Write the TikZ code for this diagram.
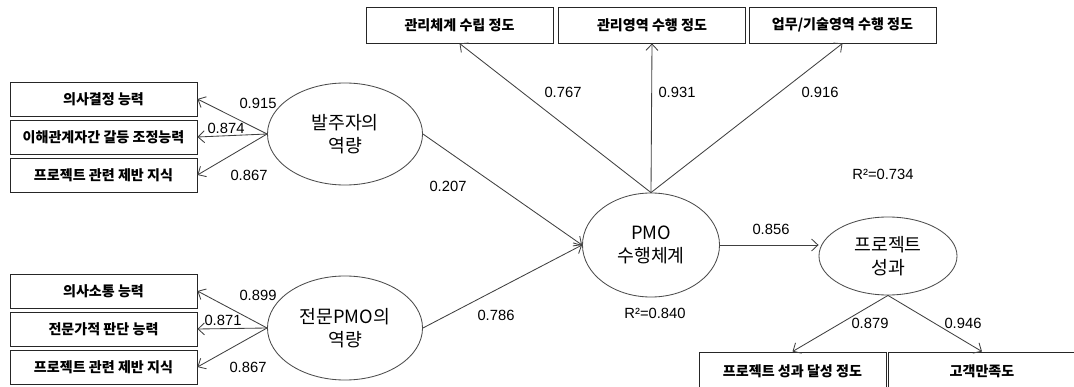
\documentclass[tikz,border=0pt]{standalone}
\usepackage{fontspec}
\setmainfont{Liberation Sans}
\newfontfamily\kor{Noto Sans CJK KR}
\usetikzlibrary{shapes.geometric,arrows.meta}

\begin{document}
\begin{tikzpicture}[x=0.025cm,y=-0.025cm,
  item/.style={rectangle,draw=black!85,line width=0.6pt,minimum width=4.675cm,minimum height=0.85cm,inner sep=0pt,font=\kor\bfseries\fontsize{10}{12}\selectfont},
  latent/.style={ellipse,draw=black!70,line width=0.6pt,inner sep=0pt,align=center,font=\kor\fontsize{13}{16}\selectfont},
  load/.style={draw=black!75,line width=0.6pt,-{Straight Barb[length=1.6mm,width=3mm]}},
  coef/.style={font=\fontsize{10.5}{12}\selectfont,inner sep=0pt}]
\useasboundingbox (0,0) rectangle (1074,387);
\fill[white] (0,0) rectangle (1074,387);

\node[latent,minimum width=3.875cm,minimum height=2.55cm] (bj) at (345,134) {발주자의\\역량};
\node[latent,minimum width=3.875cm,minimum height=2.6cm] (jp) at (345,328) {전문PMO의\\역량};
\node[latent,minimum width=3.425cm,minimum height=2.6cm] (pmo) at (651,245) {PMO\\수행체계};
\node[latent,minimum width=3.45cm,minimum height=1.95cm] (sg) at (888,256) {프로젝트\\성과};

\node[item] (a1) at (103.5,99) {의사결정 능력};
\node[item] (a2) at (103.5,137) {이해관계자간 갈등 조정능력};
\node[item] (a3) at (103.5,175) {프로젝트 관련 제반 지식};
\node[item] (b1) at (103.5,291) {의사소통 능력};
\node[item] (b2) at (103.5,329) {전문가적 판단 능력};
\node[item] (b3) at (103.5,367) {프로젝트 관련 제반 지식};
\node[item,minimum height=0.9cm] (p1) at (459.5,25) {관리체계 수립 정도};
\node[item,minimum height=0.9cm] (p2) at (652,25) {관리영역 수행 정도};
\node[item,minimum height=0.9cm] (p3) at (842.5,25) {업무/기술영역 수행 정도};
\node[item,minimum height=0.95cm] (s1) at (792.5,371) {프로젝트 성과 달성 정도};
\node[item,minimum height=0.95cm] (s2) at (982,371) {고객만족도};

\draw[load] (bj.west) -- (a1.east);
\draw[load] (bj.west) -- (a2.east);
\draw[load] (bj.west) -- (a3.east);
\draw[load] (jp.west) -- (b1.east);
\draw[load] (jp.west) -- (b2.east);
\draw[load] (jp.west) -- (b3.east);
\draw[load] (pmo.north) -- (p1.south);
\draw[load] (pmo.north) -- (p2.south);
\draw[load] (pmo.north) -- (p3.south);
\draw[load] (sg.south) -- (s1.north);
\draw[load] (sg.south) -- (s2.north);
\draw[load] (bj.east) -- (pmo.west);
\draw[load] (jp.east) -- (pmo.west);
\draw[load] (pmo.east) -- (pmo.east -| sg.west);

\node[coef] (c1) at (258,103) {0.915};
\node[coef] (c2) at (226,128) {0.874};
\node[coef] (c3) at (249,175) {0.867};
\node[coef] (c4) at (258,295) {0.899};
\node[coef] (c5) at (223,320) {0.871};
\node[coef] (c6) at (248,367) {0.867};
\node[coef] (c7) at (448,186) {0.207};
\node[coef] (c8) at (496,315) {0.786};
\node[coef] (c9) at (563,92) {0.767};
\node[coef] (c10) at (677,92) {0.931};
\node[coef] (c11) at (820,92) {0.916};
\node[coef] (c12) at (771,229) {0.856};
\node[coef] (c13) at (870,323) {0.879};
\node[coef] (c14) at (963,323) {0.946};
\node[coef] (r1) at (883,174) {R²=0.734};
\node[coef] (r2) at (655,313) {R²=0.840};

\end{tikzpicture}
\end{document}
